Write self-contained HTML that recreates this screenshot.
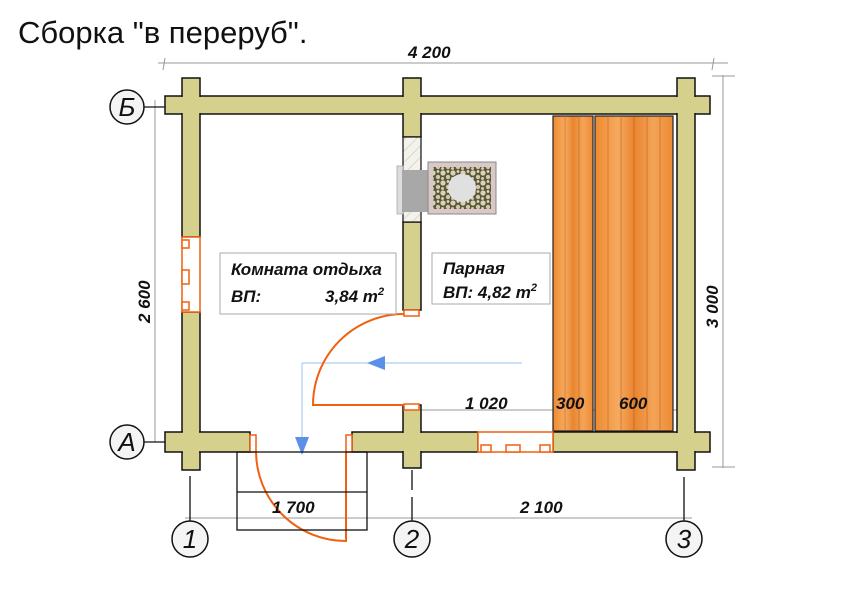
<!DOCTYPE html>
<html><head><meta charset="utf-8"><style>
html,body{margin:0;padding:0;background:#fff;}
svg{display:block;}
text{font-family:"Liberation Sans",sans-serif;}
.b{font-weight:bold;font-style:italic;font-size:17px;fill:#111;}
</style></head><body>
<svg width="848" height="600" viewBox="0 0 848 600" xmlns="http://www.w3.org/2000/svg">
<defs>
<pattern id="hatch" width="8" height="8" patternUnits="userSpaceOnUse" patternTransform="rotate(45)">
<rect width="8" height="8" fill="#f4f2ec"/><line x1="0" y1="0" x2="0" y2="8" stroke="#ddd8c8" stroke-width="2"/>
</pattern>
<pattern id="peb" width="10" height="10" patternUnits="userSpaceOnUse">
<rect width="10" height="10" fill="#5a5440"/>
<circle cx="3" cy="3" r="2.6" fill="#d8d4b0"/><circle cx="8" cy="7" r="2.2" fill="#cfcaa0"/><circle cx="8" cy="1.5" r="1.4" fill="#e0dcc0"/><circle cx="2.5" cy="8.5" r="1.5" fill="#d0cca8"/>
</pattern>
<linearGradient id="wood" x1="0" y1="0" x2="1" y2="0">
<stop offset="0" stop-color="#ee8a30"/><stop offset="0.3" stop-color="#f6aa60"/><stop offset="0.5" stop-color="#e98530"/><stop offset="0.75" stop-color="#f4a458"/><stop offset="1" stop-color="#ec8a34"/>
</linearGradient>
</defs>

<text x="18" y="43" font-size="31" fill="#111">Сборка "в переруб".</text>

<g stroke="#999" stroke-width="1" fill="none">
<line x1="158" y1="63" x2="728" y2="63"/>
<line x1="165" y1="58" x2="163" y2="70"/><line x1="714" y1="58" x2="712" y2="70"/>
<line x1="155" y1="100" x2="155" y2="442"/>
<line x1="723" y1="75" x2="723" y2="468"/>
<line x1="712" y1="76" x2="735" y2="76"/><line x1="712" y1="467" x2="735" y2="467"/>
<line x1="185" y1="518" x2="692" y2="518"/>
<line x1="421" y1="410" x2="680" y2="410"/>
<line x1="302" y1="363" x2="522" y2="363" stroke="#9cc0ee"/>
<line x1="302" y1="363" x2="302" y2="440" stroke="#9cc0ee"/>
</g>
<polygon points="367,363 385,356 385,370" fill="#5a90e8"/>
<polygon points="295,437 309,437 302,455" fill="#5a90e8"/>

<rect x="553" y="116" width="40" height="315" fill="url(#wood)" stroke="#222" stroke-width="1.2"/>
<rect x="595" y="116" width="78" height="315" fill="url(#wood)" stroke="#222" stroke-width="1.2"/>
<g stroke="#b05a10" stroke-width="0.7" opacity="0.7" fill="none">
<line x1="565" y1="116" x2="565" y2="430"/><line x1="579" y1="116" x2="579" y2="430"/>
<line x1="608" y1="116" x2="608" y2="430"/><line x1="621" y1="116" x2="621" y2="430"/>
<line x1="634" y1="116" x2="634" y2="430"/><line x1="647" y1="116" x2="647" y2="430"/><line x1="660" y1="116" x2="660" y2="430"/>
</g>

<g fill="#d5d08c" stroke="#111" stroke-width="1.5">
<rect x="165" y="96" width="545" height="18"/>
<rect x="182" y="78" width="18" height="159"/>
<rect x="182" y="312" width="18" height="158"/>
<rect x="165" y="432" width="85" height="20"/>
<rect x="352" y="432" width="126" height="20"/>
<rect x="403" y="405" width="18" height="63"/>
<rect x="553" y="432" width="157" height="20"/>
<rect x="677" y="78" width="18" height="392"/>
<rect x="403" y="78" width="18" height="59"/>
<rect x="403" y="222" width="18" height="88"/>
</g>
<g fill="#d5d08c">
<rect x="166" y="97" width="543" height="16"/>
<rect x="183" y="79" width="16" height="157"/>
<rect x="183" y="313" width="16" height="156"/>
<rect x="166" y="433" width="83" height="18"/>
<rect x="353" y="433" width="124" height="18"/>
<rect x="404" y="406" width="16" height="61"/>
<rect x="554" y="433" width="155" height="18"/>
<rect x="678" y="79" width="16" height="390"/>
<rect x="404" y="79" width="16" height="57"/>
</g>
<rect x="403" y="137" width="18" height="85" fill="url(#hatch)" stroke="#111" stroke-width="1.2"/>

<rect x="397" y="166" width="6" height="48" fill="#ddd" stroke="#aaa" stroke-width="0.8"/>
<rect x="402" y="170" width="27" height="42" fill="#a8a8a8"/>
<rect x="428" y="162" width="68" height="52" fill="#d8c8c8" stroke="#888" stroke-width="1"/>
<rect x="433" y="167" width="58" height="42" fill="url(#peb)"/>
<circle cx="462" cy="188" r="14" fill="#e0e0e0"/>

<g fill="#fff" stroke="#f06010" stroke-width="1.5">
<rect x="182" y="237" width="18" height="75"/>
<rect x="182" y="240" width="7" height="8"/><rect x="182" y="270" width="7" height="14"/><rect x="182" y="302" width="7" height="8"/>
<rect x="478" y="432" width="75" height="20"/>
<rect x="481" y="445" width="10" height="7"/><rect x="506" y="445" width="14" height="7"/><rect x="540" y="445" width="10" height="7"/>
<rect x="250" y="435" width="6" height="17"/><rect x="346" y="435" width="6" height="17"/>
<rect x="404" y="404" width="15" height="6"/><rect x="404" y="310" width="15" height="6"/>
</g>
<g fill="none" stroke="#f06010" stroke-width="2">
<path d="M404,405 L313,405 A91,91 0 0 1 404,314"/>
<path d="M346,452 L346,541 A90,90 0 0 1 256,452"/>
</g>

<g fill="none" stroke="#111" stroke-width="1.3">
<rect x="237" y="452" width="130" height="78"/>
<line x1="237" y1="492" x2="367" y2="492"/>
</g>

<g fill="#fff" stroke="#aaa" stroke-width="1">
<rect x="220" y="253" width="176" height="61"/>
<rect x="432" y="253" width="118" height="51"/>
</g>
<text x="231" y="275" class="b" font-size="17">Комната отдыха</text>
<text x="231" y="302" class="b" font-size="17">ВП:</text>
<text x="325" y="302" class="b" font-size="17">3,84 m<tspan font-size="11" dy="-7">2</tspan></text>
<text x="443" y="274" class="b" font-size="17">Парная</text>
<text x="443" y="298" class="b" font-size="17">ВП: 4,82 m<tspan font-size="11" dy="-7">2</tspan></text>

<text x="408" y="58" class="b" font-size="20">4 200</text>
<text class="b" font-size="20" transform="translate(150,323) rotate(-90)">2 600</text>
<text class="b" font-size="20" transform="translate(718,328) rotate(-90)">3 000</text>
<text x="272" y="513" class="b" font-size="20">1 700</text>
<text x="520" y="513" class="b" font-size="20">2 100</text>
<text x="465" y="409" class="b" font-size="16">1 020</text>
<text x="556" y="409" class="b" font-size="16">300</text>
<text x="619" y="409" class="b" font-size="16">600</text>

<g stroke="#111" stroke-width="1.3" fill="none">
<line x1="144" y1="107" x2="165" y2="107"/>
<line x1="144" y1="442" x2="165" y2="442"/>
<line x1="190" y1="476" x2="190" y2="522"/>
<line x1="412" y1="470" x2="412" y2="490"/><line x1="412" y1="497" x2="412" y2="522"/>
<line x1="684" y1="477" x2="684" y2="521"/>
</g>
<g fill="#f4f4f4" stroke="#111" stroke-width="1.5">
<circle cx="127" cy="107" r="17"/>
<circle cx="127" cy="442" r="17"/>
<circle cx="190" cy="539" r="18"/>
<circle cx="412" cy="539" r="18"/>
<circle cx="684" cy="539" r="18"/>
</g>
<g font-size="26" font-style="italic" fill="#111" text-anchor="middle">
<text x="127" y="116">Б</text>
<text x="127" y="451">А</text>
<text x="190" y="548">1</text>
<text x="412" y="548">2</text>
<text x="684" y="548">3</text>
</g>
</svg>
</body></html>
